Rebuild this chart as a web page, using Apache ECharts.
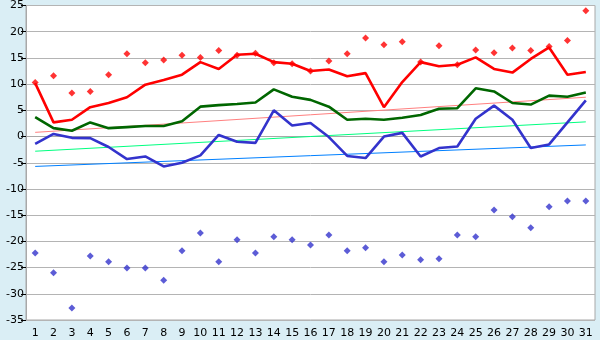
<!DOCTYPE html>
<html>
<head>
<meta charset="utf-8">
<script src="https://cdn.jsdelivr.net/npm/echarts@6/dist/echarts.min.js"></script>
<style>
html,body{margin:0;padding:0;background:#daeef5;}
#c{width:600px;height:340px;}
</style>
</head>
<body>
<div id="c"></div>
<script>
var days = ['1','2','3','4','5','6','7','8','9','10','11','12','13','14','15','16','17','18','19','20','21','22','23','24','25','26','27','28','29','30','31'];
var maxTemp = [10.2,2.7,3.2,5.6,6.4,7.5,9.9,10.8,11.8,14.2,12.9,15.6,15.8,14.2,13.9,12.5,12.8,11.5,12.1,5.6,10.4,14.2,13.4,13.7,15.1,12.9,12.2,14.8,17.0,11.8,12.3];
var meanTemp = [3.7,1.6,1.1,2.7,1.6,1.8,2.0,2.0,2.9,5.7,6.0,6.2,6.5,9.0,7.6,7.0,5.7,3.2,3.4,3.2,3.6,4.1,5.3,5.4,9.2,8.6,6.4,6.1,7.8,7.6,8.4];
var minTemp = [-1.4,0.5,-0.25,-0.3,-2.0,-4.3,-3.8,-5.7,-5.0,-3.6,0.3,-1.0,-1.2,5.0,2.1,2.6,-0.1,-3.7,-4.1,0.0,0.7,-3.8,-2.2,-1.9,3.4,5.9,3.2,-2.2,-1.5,2.7,6.9];
var absMax = [10.3,11.6,8.3,8.6,11.8,15.8,14.1,14.6,15.5,15.1,16.4,15.5,15.9,14.1,13.9,12.5,14.4,15.8,18.8,17.5,18.1,14.2,17.3,13.7,16.5,16.0,16.9,16.4,17.2,18.3,24.0];
var absMin = [-22.2,-26.0,-32.7,-22.8,-23.9,-25.1,-25.1,-27.4,-21.8,-18.4,-23.9,-19.7,-22.2,-19.1,-19.7,-20.7,-18.8,-21.8,-21.2,-23.9,-22.6,-23.5,-23.3,-18.8,-19.1,-14.0,-15.3,-17.4,-13.4,-12.3,-12.3];
// normal lines: value on first day and last day
var normMaxEnds = [0.8, 7.5];
var normMeanEnds = [-2.8, 2.8];
var normMinEnds = [-5.7, -1.6];
var yTicks = {min: -35, max: 25, interval: 5};

function ends(e){
  var arr = days.map(function(){return null;});
  arr[0] = e[0]; arr[days.length-1] = e[1];
  return arr;
}

var chart = echarts.init(document.getElementById('c'));
var font = 'DejaVu Sans';
chart.setOption({
  animation: false,
  backgroundColor: '#daeef5',
  grid: {left: 26, right: 5, top: 5, bottom: 20, show: true, backgroundColor: '#ffffff', borderColor: '#a8a8a8', borderWidth: 1},
  xAxis: {
    type: 'category', data: days, boundaryGap: true,
    axisLine: {lineStyle: {color: '#a8a8a8', width: 1}},
    axisTick: {alignWithLabel: true, length: 6, lineStyle: {color: '#000'}},
    axisLabel: {color: '#000', fontFamily: font, fontSize: 11, margin: 8, interval: 0},
    splitLine: {show: false}
  },
  yAxis: {
    type: 'value', min: yTicks.min, max: yTicks.max, interval: yTicks.interval,
    axisLine: {show: true, lineStyle: {color: '#a8a8a8'}},
    axisTick: {show: true, length: 5, lineStyle: {color: '#000'}},
    axisLabel: {color: '#000', fontFamily: font, fontSize: 11, margin: 2},
    splitLine: {lineStyle: {color: '#b4b4b4', width: 1}}
  },
  series: [
    {type: 'line', data: ends(normMaxEnds), connectNulls: true, symbol: 'none', lineStyle: {color: '#ff8080', width: 1}, z: 1},
    {type: 'line', data: ends(normMeanEnds), connectNulls: true, symbol: 'none', lineStyle: {color: '#00ff80', width: 1}, z: 1},
    {type: 'line', data: ends(normMinEnds), connectNulls: true, symbol: 'none', lineStyle: {color: '#0080ff', width: 1}, z: 1},
    {type: 'line', data: maxTemp, symbol: 'none', lineStyle: {color: '#ff0000', width: 2.6}, z: 3},
    {type: 'line', data: meanTemp, symbol: 'none', lineStyle: {color: '#006600', width: 2.6}, z: 3},
    {type: 'line', data: minTemp, symbol: 'none', lineStyle: {color: '#3333cc', width: 2.6}, z: 3},
    {type: 'scatter', data: absMax, symbol: 'diamond', symbolSize: 7, itemStyle: {color: '#ff0000'}, z: 4},
    {type: 'scatter', data: absMin, symbol: 'diamond', symbolSize: 7, itemStyle: {color: '#3333cc'}, z: 4}
  ]
});
</script>
</body>
</html>
